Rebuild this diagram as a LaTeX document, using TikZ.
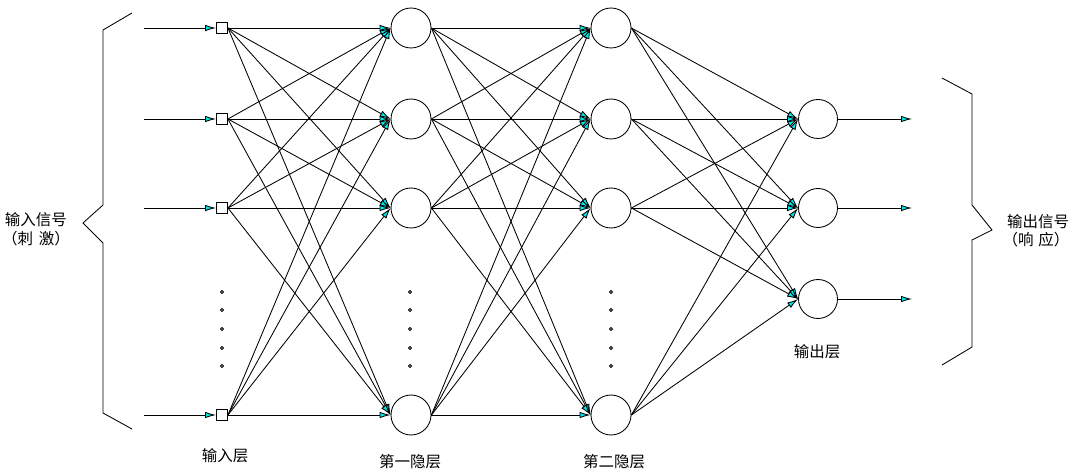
\documentclass[tikz,border=0pt]{standalone}
\usepackage{fontspec}
\newfontfamily\cjk{Noto Sans CJK SC}
\usetikzlibrary{arrows.meta,positioning}
\definecolor{tipcyan}{RGB}{0,232,232}
\tikzset{
  neuron/.style={circle,draw,minimum size=40pt,inner sep=0pt},
  inbox/.style={draw,minimum size=11pt,inner sep=0pt},
  conn/.style={-{Latex[length=11pt,width=6.5pt,fill=tipcyan]}},
  lbl/.style={font=\cjk\fontsize{15.5}{17}\selectfont,inner sep=0pt},
}

\begin{document}
\begin{tikzpicture}[x=1pt,y=-1pt,line width=0.85pt]
    \useasboundingbox (0,0) rectangle (1072,473);
    % layers
    \foreach \i/\y in {1/28,2/119,3/208,4/415} {
      \node[inbox] (in\i) at (222,\y) {};
      \node[neuron] (ha\i) at (411,\y) {};
      \node[neuron] (hb\i) at (611,\y) {};
      \coordinate (src\i) at (144,\y);
      \draw[conn] (src\i) -- (in\i.west);
    }
    \foreach \i/\y in {1/119,2/208,3/299} {
      \node[neuron,minimum size=39pt] (out\i) at (818,\y) {};
      \coordinate (res\i) at (912,\y);
      \draw[conn] (out\i.east) -- (res\i);
    }
    % full connections
    \foreach \a in {1,...,4}
      \foreach \b in {1,...,4} {
        \draw[conn] (in\a.east) -- (ha\b.west);
        \draw[conn] (ha\a.east) -- (hb\b.west);
      }
    \foreach \a in {1,...,4}
      \foreach \b in {1,2,3}
        \draw[conn] (hb\a.east) -- (out\b.west);
    % omitted units
    \foreach \x in {222,410,611}
      \foreach \y in {292,310,329,348,366}
        \draw[line width=0.9pt] (\x,\y) circle (1.6pt);
    % braces
    \draw (132,13) -- (103,30) -- (103,205) -- (83,223) -- (103,243) -- (103,413) -- (132,429);
    \draw (942,78) -- (972,94) -- (972,205) -- (992,230) -- (972,240) -- (972,347) -- (942,365);
    % labels
    \node[lbl] (insig) at (36,220) {输入信号};
    \node[lbl] (stim) at (36,239) {（刺\hspace{6pt}激）};
    \node[lbl] (outsig) at (1038,222) {输出信号};
    \node[lbl] (resp) at (1036,240) {（响\hspace{5pt}应）};
    \node[lbl] (inlayer) at (225,456) {输入层};
    \node[lbl] (h1layer) at (410,462) {第一隐层};
    \node[lbl] (h2layer) at (614,462) {第二隐层};
    \node[lbl] (outlayer) at (817,352) {输出层};
\end{tikzpicture}
\end{document}
